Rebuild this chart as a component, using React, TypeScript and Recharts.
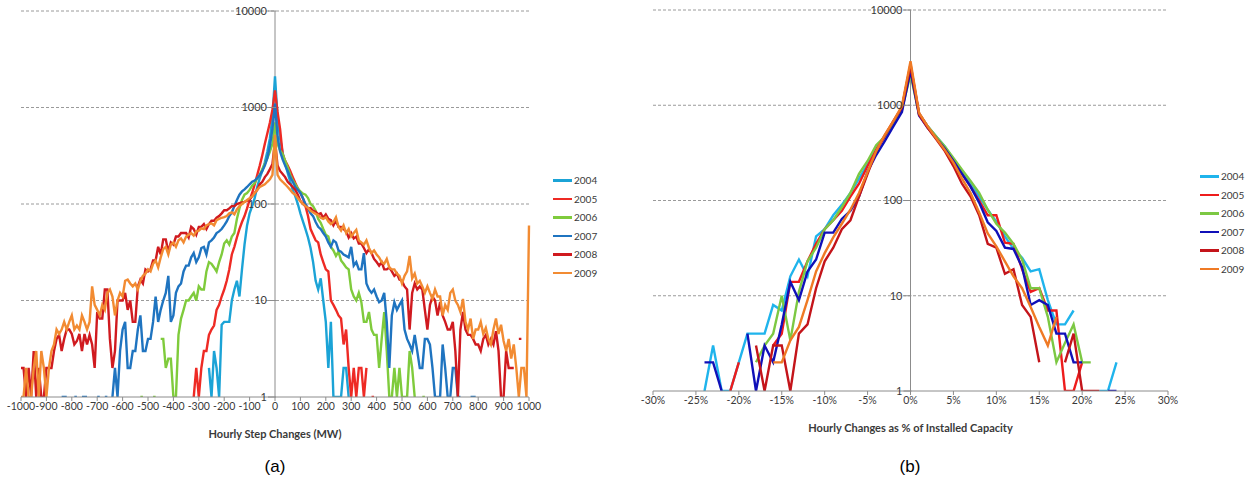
import {
  LineChart,
  Line,
  XAxis,
  YAxis,
  ReferenceLine,
  ReferenceDot,
  Legend,
} from 'recharts';

const YEARS = ['2004', '2005', '2006', '2007', '2008', '2009'];
const MW_COLORS = ['#1ba3d6', '#ee2a24', '#7fcb3c', '#1f74c0', '#d01a1f', '#f28b32'];
const PCT_COLORS = ['#1fb4ec', '#ee1c1c', '#7cc843', '#1010b8', '#c4141a', '#ef7a25'];

const DECADES = [1, 10, 100, 1000, 10000];
const GRID_DECADES = [10, 100, 1000, 10000];
const MW_TICKS = [
  -1000, -900, -800, -700, -600, -500, -400, -300, -200, -100, 0, 100, 200, 300, 400, 500, 600,
  700, 800, 900, 1000,
];
const PCT_TICKS = [-30, -25, -20, -15, -10, -5, 0, 5, 10, 15, 20, 25, 30];

// bin centres: every 10 MW, every 1 %
const MW_BINS = Array.from({ length: 201 }, (_, i) => -1000 + i * 10);
const PCT_BINS = Array.from({ length: 61 }, (_, i) => -30 + i);

// hours per 10 MW step bin, -1000 .. 1000 (0 = no hours)
const mw2004 = [
  0, 0, 0, 0, 0, 0, 0, 0, 0, 0,
  0, 0, 0, 0, 0, 0, 0, 0, 0, 0,
  0, 0, 0, 0, 0, 0, 0, 0, 0, 0,
  0, 0, 0, 0, 0, 0, 0, 0, 0, 0,
  0, 0, 0, 0, 0, 0, 0, 0, 0, 0,
  0, 0, 0, 0, 0, 0, 0, 0, 0, 0,
  0, 0, 0, 0, 0, 0, 0, 0, 0, 0,
  0, 0, 0, 0, 2, 1, 3, 2, 1, 5.6,
  6, 6, 6, 10, 13, 16, 11, 21, 38, 60,
  80, 95, 115, 150, 185, 220, 270, 350, 480, 800,
  2100,
  800, 480, 340, 260, 210, 170, 140, 120, 100, 80,
  66, 55, 45, 35, 25, 16, 13, 17, 10, 6,
  2, 6, 1, 1, 1, 1, 2, 2, 1, 0,
  0, 0, 0, 0, 0, 0, 0, 0, 0, 0,
  0, 0, 0, 0, 0, 0, 0, 0, 0, 0,
  0, 0, 0, 0, 0, 0, 0, 0, 0, 0,
  0, 0, 0, 0, 0, 0, 0, 0, 0, 0,
  0, 0, 0, 0, 0, 0, 0, 0, 0, 0,
  0, 0, 0, 0, 0, 0, 0, 0, 0, 0,
  0, 0, 0, 0, 0, 0, 0, 0, 0, 0,
];

const mw2005 = [
  0, 0, 0, 0, 0, 0, 0, 0, 0, 0,
  0, 0, 0, 0, 0, 0, 0, 0, 0, 0,
  0, 0, 0, 0, 0, 0, 0, 0, 0, 0,
  0, 0, 0, 0, 0, 0, 0, 0, 0, 0,
  0, 0, 0, 0, 0, 0, 0, 0, 0, 0,
  0, 0, 0, 0, 0, 0, 0, 0, 0, 0,
  0, 0, 0, 0, 0, 0, 0, 0, 1, 2,
  1, 2, 3, 3, 4.4, 5, 5.5, 8, 9, 11,
  13, 16, 21, 30, 36, 45, 55, 65, 75, 90,
  110, 130, 160, 200, 250, 320, 420, 540, 700, 950,
  1500,
  900, 600, 330, 280, 250, 220, 190, 165, 145, 130,
  115, 95, 75, 55, 48, 42, 40, 30, 25, 21,
  20, 10, 9, 8, 7, 6.5, 3.5, 5, 2, 1,
  2, 1, 2, 2, 1, 2, 0, 1, 1, 0,
  0, 0, 0, 0, 0, 0, 0, 0, 0, 0,
  0, 0, 0, 0, 0, 0, 0, 0, 0, 0,
  0, 0, 0, 0, 0, 0, 0, 0, 0, 0,
  0, 0, 0, 0, 0, 0, 0, 0, 0, 0,
  0, 0, 0, 0, 0, 0, 0, 0, 0, 0,
  0, 0, 0, 0, 0, 0, 0, 0, 0, 0,
];

const mw2006 = [
  0, 0, 0, 0, 0, 0, 0, 0, 0, 0,
  0, 0, 0, 0, 0, 0, 0, 0, 0, 0,
  0, 0, 0, 0, 0, 0, 0, 0, 0, 0,
  0, 0, 0, 0, 0, 0, 0, 0, 0, 0,
  0, 0, 0, 0, 0, 0, 0, 1, 1, 0,
  0, 0, 1, 1, 0, 4, 4, 2, 2.5, 2.5,
  1, 1, 4.4, 6.5, 8, 10, 10, 11, 12, 10,
  14, 13, 13, 20, 25, 24, 22, 20, 25, 30,
  39, 42, 38, 46, 50, 70, 90, 110, 125, 130,
  140, 155, 165, 185, 200, 230, 260, 300, 350, 420,
  700,
  420, 360, 330, 280, 240, 200, 175, 160, 145, 135,
  128, 125, 115, 100, 95, 85, 70, 64, 55, 48,
  46, 36, 33, 29, 32, 26, 24, 22, 21, 13,
  11, 10, 12, 9.6, 6, 6, 7.6, 5, 4.4, 4.4,
  2, 4, 7.6, 3, 1, 1, 2, 1, 2, 1,
  1, 1, 3, 2, 1, 0, 0, 1, 1, 0,
  0, 0, 0, 0, 0, 0, 0, 0, 0, 0,
  0, 0, 0, 0, 0, 0, 0, 0, 0, 0,
  0, 0, 0, 0, 0, 0, 0, 0, 0, 0,
  0, 0, 0, 0, 0, 0, 0, 0, 0, 0,
];

const mw2007 = [
  0, 0, 0, 0, 0, 0, 0, 0, 0, 0,
  0, 0, 0, 0, 0, 0, 1, 1, 1, 0,
  0, 1, 1, 0, 1, 1, 1, 0, 0, 0,
  1, 1, 0, 1, 1, 0, 1, 2, 1, 3,
  5, 6, 2, 2, 3, 3, 5, 7, 3, 3,
  4, 4, 6, 11, 6, 8, 10, 12, 18, 6,
  7, 12, 14, 15, 20, 23, 23, 28, 31, 25,
  28, 35, 36, 30, 40, 42, 45, 50, 52, 55,
  60, 66, 75, 82, 95, 110, 125, 135, 142, 150,
  160, 170, 175, 185, 200, 220, 250, 300, 400, 600,
  1100,
  500, 350, 290, 250, 220, 190, 170, 150, 140, 130,
  115, 100, 90, 80, 75, 65, 58, 55, 50, 46,
  40, 36, 42, 40, 33, 32, 30, 29, 28, 36,
  23, 25, 21, 21, 31, 15, 13, 12, 13, 11,
  9.6, 10, 12, 6, 2, 7, 9.6, 8, 9, 10,
  5, 4, 3.5, 3, 4.4, 3, 2, 2, 4, 4,
  3.5, 2, 1, 1, 1, 3.5, 2, 1, 1, 2,
  2, 1, 1, 0, 0, 0, 1, 1, 1, 0,
  0, 0, 0, 0, 0, 0, 0, 0, 0, 0,
  0, 0, 0, 0, 0, 0, 0, 0, 0, 0,
];

const mw2008 = [
  2, 2, 1, 2, 1, 3, 1, 2, 1, 1,
  2, 2, 2, 3, 4, 4.4, 3, 4, 5, 5,
  4.5, 3.5, 3.8, 4.5, 3, 4.5, 3.5, 4.4, 3.5, 2,
  7.6, 6.5, 6.5, 13, 13, 4, 2, 3, 10, 10,
  10, 12, 8, 10, 6, 6, 14, 16.5, 15, 21,
  20, 21, 26, 26, 36, 30, 43, 43, 32, 40,
  38, 46, 46, 50, 50, 50, 45, 58, 55, 48,
  58, 58, 62, 55, 62, 67, 67, 72, 75, 80,
  86, 86, 90, 95, 95, 100, 102, 104, 105, 108,
  112, 120, 130, 140, 160, 170, 190, 205, 230, 260,
  450,
  250, 220, 205, 190, 170, 160, 150, 140, 125, 107,
  100, 95, 90, 91, 85, 83, 78, 80, 72, 78,
  70, 68, 60, 67, 58, 58, 55, 52, 45, 50,
  44, 46, 39, 39, 35, 31, 34, 31, 27, 25,
  23, 25, 21, 21, 22, 20, 18, 19, 16.5, 16,
  14, 13, 5, 12, 15, 13, 14, 13, 8, 5,
  9, 11, 10, 7, 9.6, 7, 6, 5, 5, 6,
  3, 1, 5, 7.6, 5, 4.4, 4.4, 4, 3.5, 3.5,
  3, 4, 4.4, 3.5, 4, 3.5, 4.8, 3, 1, 1,
  3, 2, 2, 2, 0, 4, 4, 0, 0, 0,
];

const mw2009 = [
  1, 1, 2, 1, 1, 2, 3, 1, 3, 2,
  1, 2, 3, 3.5, 5, 4.5, 5, 6, 5, 6,
  7, 5, 5.5, 5, 7, 6, 5, 6, 14, 9,
  8, 7, 9, 8, 12, 13, 11, 7, 10, 12,
  11, 16, 16.5, 15, 14, 15, 13, 16, 18, 19,
  21, 20, 24, 26, 22, 28, 34, 36, 30, 38,
  40, 36, 42, 44, 40, 46, 48, 50, 47, 52,
  53, 56, 55, 60, 62, 63, 60, 68, 70, 72,
  73, 75, 80, 82, 78, 88, 95, 100, 105, 110,
  115, 120, 130, 140, 150, 155, 160, 170, 180, 200,
  520,
  200, 180, 170, 160, 150, 140, 130, 125, 115, 107,
  100, 95, 91, 85, 82, 79, 77, 72, 70, 73,
  66, 62, 65, 73, 58, 53, 60, 50, 55, 46,
  50, 54, 42, 40, 38, 42, 35, 31, 33, 30,
  28, 25, 24, 27, 22, 21, 21, 19, 18, 15,
  18, 20, 29, 17, 19, 15, 16, 14, 12, 14,
  12, 10.4, 13, 11, 11, 7, 9, 8, 12, 13,
  10, 9, 7.6, 10.4, 6, 5, 6.5, 4, 5, 5,
  6, 4.5, 5.2, 4, 3.5, 5, 6.5, 4.5, 5.6, 3.8,
  3, 4, 2.5, 3.5, 2, 1, 2, 2, 1, 60,
];

// hours per 1 % bin, -30 .. 30 %
const pct2004 = [
  0, 0, 0, 0, 0, 0, 1, 3, 1, 1,
  2, 4, 4, 4, 8, 7, 16, 24, 16, 42,
  50, 70, 90, 120, 170, 240, 350, 480, 650, 900,
  2400,
  820, 600, 470, 370, 270, 200, 150, 110, 80, 60,
  42, 31, 25, 18, 19, 9, 5, 5, 7, 0,
  0, 1, 1, 2, 0, 0, 0, 0, 0, 0,
];
const pct2005 = [
  0, 0, 0, 0, 0, 0, 0, 0, 0, 1,
  2, 0, 0, 0, 3, 4, 14, 14, 23, 35,
  50, 62, 78, 110, 150, 230, 340, 470, 660, 950,
  2700,
  820, 600, 460, 350, 260, 190, 140, 100, 70, 70,
  36, 35, 19, 11, 12, 7, 7, 1, 1, 2,
  0, 0, 0, 0, 0, 0, 0, 0, 0, 0,
];
const pct2006 = [
  0, 0, 0, 0, 0, 0, 0, 0, 0, 0,
  0, 0, 2, 3, 4, 10, 3.4, 11, 23, 32,
  50, 62, 85, 120, 190, 260, 380, 470, 650, 900,
  2100,
  800, 600, 470, 370, 280, 210, 160, 120, 80, 57,
  46, 35, 24, 12, 12, 6, 2, 3.2, 5, 2,
  2, 0, 0, 0, 0, 0, 0, 0, 0, 0,
];
const pct2007 = [
  0, 0, 1, 0, 0, 0, 2, 2, 1, 0,
  0, 4, 1, 3, 2, 5, 14, 9, 18, 24,
  46, 46, 64, 78, 110, 200, 300, 420, 600, 850,
  2300,
  780, 580, 450, 350, 260, 190, 140, 95, 59, 48,
  32, 31, 20, 8, 9, 8, 4, 4, 2, 2,
  0, 0, 1, 1, 0, 0, 0, 0, 0, 0,
];
const pct2008 = [
  0, 0, 0, 0, 0, 0, 0, 0, 0, 0,
  0, 0, 3, 1, 3, 3, 1, 4, 5, 12,
  23, 32, 50, 62, 110, 190, 330, 480, 680, 950,
  2600,
  800, 580, 440, 330, 230, 150, 110, 70, 35, 32,
  17, 19, 8, 6, 2, 0, 0, 2, 4, 1,
  1, 1, 0, 0, 0, 0, 0, 0, 0, 0,
];
const pct2009 = [
  0, 0, 0, 0, 0, 0, 0, 0, 0, 0,
  0, 0, 0, 0, 2, 2, 3.4, 4.7, 9, 18,
  28, 41, 57, 80, 120, 200, 330, 490, 680, 980,
  2900,
  830, 600, 450, 340, 250, 170, 120, 75, 45, 33,
  23, 16, 12, 7.6, 4.7, 3, 6, 0, 0, 0,
  0, 0, 0, 0, 0, 0, 0, 0, 0, 0,
];

const FONT = 'Lato, "Open Sans", sans-serif';
const TEXT = '#3a3a3a';

// zero hours cannot sit on a log axis, so they leave a gap
const toLog = (v: number) => (v > 0 ? v : null);

function buildRows(bins: number[], series: number[][]) {
  return bins.map((x, i) => {
    const row: Record<string, number | null> = { x };
    YEARS.forEach((year, k) => {
      row[year] = toLog(series[k][i]);
    });
    return row;
  });
}

const mwData = buildRows(MW_BINS, [mw2004, mw2005, mw2006, mw2007, mw2008, mw2009]);
const pctData = buildRows(PCT_BINS, [pct2004, pct2005, pct2006, pct2007, pct2008, pct2009]);

function DecadeLabel({ viewBox, text }: any) {
  if (!viewBox) return null;
  const { x, y } = viewBox;
  return (
    <g>
      <line x1={x - 7} x2={x + 1} y1={y} y2={y} stroke="#8c8c8c" />
      <text x={x - 8} y={y} dy="0.35em" textAnchor="end" fontSize={11} fill={TEXT}>
        {text}
      </text>
    </g>
  );
}

function YearLegend({ payload }: any) {
  return (
    <div style={{ fontSize: 10, color: TEXT, fontFamily: FONT }}>
      {(payload || []).map((p: any) => (
        <div key={p.value} style={{ display: 'flex', alignItems: 'center', height: 18.5 }}>
          <span
            style={{
              display: 'inline-block',
              width: 19,
              height: 2.5,
              background: p.color,
              marginRight: 2,
            }}
          />
          {p.value}
        </div>
      ))}
    </div>
  );
}

interface CountChartProps {
  data: Array<Record<string, number | null>>;
  colors: string[];
  ticks: number[];
  tickFormat: (v: number) => string;
  title: string;
  width: number;
  height: number;
  margin: { top: number; right: number; bottom: number; left: number };
  legendPos: { left: number; top: number };
}

function CountChart({
  data,
  colors,
  ticks,
  tickFormat,
  title,
  width,
  height,
  margin,
  legendPos,
}: CountChartProps) {
  return (
    <LineChart width={width} height={height} data={data} margin={margin}>
      <XAxis
        dataKey="x"
        type="number"
        domain={[ticks[0], ticks[ticks.length - 1]]}
        ticks={ticks}
        interval={0}
        tickFormatter={tickFormat}
        tickSize={4}
        stroke="#8c8c8c"
        tick={{ fontSize: 10.5, fill: TEXT }}
        height={45}
        label={{
          value: title,
          position: 'insideBottom',
          offset: 4,
          fontSize: 11,
          fontWeight: 700,
          fill: TEXT,
        }}
      />
      <YAxis
        type="number"
        scale="log"
        domain={[1, 10000]}
        ticks={DECADES}
        allowDataOverflow
        width={0}
        tick={false}
        axisLine={false}
        tickLine={false}
      />
      {GRID_DECADES.map((d) => (
        <ReferenceLine key={`g${d}`} y={d} stroke="#9a9a9a" strokeDasharray="3 2" />
      ))}
      <ReferenceLine x={0} stroke="#8c8c8c" />
      {DECADES.map((d) => (
        <ReferenceDot
          key={d}
          x={0}
          y={d}
          r={0}
          fill="none"
          stroke="none"
          label={<DecadeLabel text={String(d)} />}
        />
      ))}
      {YEARS.map((year, k) => (
        <Line
          key={year}
          dataKey={year}
          name={year}
          stroke={colors[k]}
          strokeWidth={2.4}
          dot={false}
          isAnimationActive={false}
        />
      ))}
      <Legend
        layout="horizontal"
        verticalAlign="middle"
        align="center"
        wrapperStyle={{ left: legendPos.left, top: legendPos.top, width: 50 }}
        content={<YearLegend />}
      />
    </LineChart>
  );
}

const captionStyle = {
  position: 'absolute' as const,
  width: 550,
  top: 457,
  textAlign: 'center' as const,
  fontSize: 17,
  fontFamily: '"Liberation Sans", Arial, sans-serif',
  color: '#000',
};

export default function App() {
  return (
    <div
      style={{
        position: 'absolute',
        left: 0,
        top: 0,
        width: 1246,
        height: 484,
        background: '#fff',
        fontFamily: FONT,
      }}
    >
      <div style={{ position: 'absolute', left: 0, top: 0 }}>
        <CountChart
          data={mwData}
          colors={MW_COLORS}
          ticks={MW_TICKS}
          tickFormat={(v) => String(v)}
          title="Hourly Step Changes (MW)"
          width={600}
          height={450}
          margin={{ top: 11, right: 71, bottom: 8, left: 21 }}
          legendPos={{ left: 553, top: 171 }}
        />
      </div>
      <div style={{ position: 'absolute', left: 600, top: 0 }}>
        <CountChart
          data={pctData}
          colors={PCT_COLORS}
          ticks={PCT_TICKS}
          tickFormat={(v) => `${v}%`}
          title="Hourly Changes as % of Installed Capacity"
          width={646}
          height={450}
          margin={{ top: 10, right: 78, bottom: 14, left: 53 }}
          legendPos={{ left: 600, top: 167 }}
        />
      </div>
      <div style={{ ...captionStyle, left: 0 }}>(a)</div>
      <div style={{ ...captionStyle, left: 635 }}>(b)</div>
    </div>
  );
}
